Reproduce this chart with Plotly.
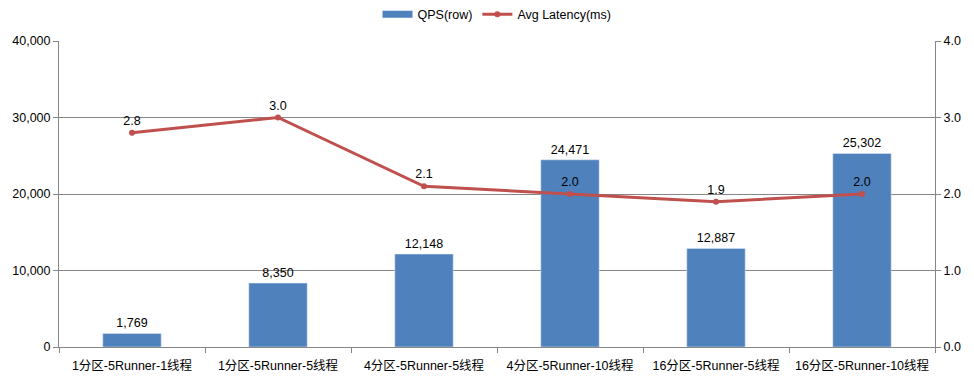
import plotly.graph_objects as go

categories = ["1分区-5Runner-1线程", "1分区-5Runner-5线程", "4分区-5Runner-5线程",
              "4分区-5Runner-10线程", "16分区-5Runner-5线程", "16分区-5Runner-10线程"]
qps = [1769, 8350, 12148, 24471, 12887, 25302]
latency = [2.8, 3.0, 2.1, 2.0, 1.9, 2.0]
left_ticks = [0, 10000, 20000, 30000, 40000]
right_ticks = [0.0, 1.0, 2.0, 3.0, 4.0]

FONT = "Liberation Sans, Noto Sans CJK SC"
AX = "#868686"
BLUE = "#4F81BD"
RED = "#C0504D"

fig = go.Figure()
fig.add_trace(go.Bar(
    x=categories, y=qps, name="QPS(row)", marker_color=BLUE,
    text=[f"{v:,}" for v in qps], textposition="outside",
    textfont=dict(size=12.5, color="#000000"), cliponaxis=False,
    width=0.4, showlegend=False,
))
# legend entry drawn as a wide bar-like swatch (as in the original)
fig.add_trace(go.Scatter(
    x=[None], y=[None], name="QPS(row)", mode="lines",
    line=dict(color=BLUE, width=7), hoverinfo="skip",
))
fig.add_trace(go.Scatter(
    x=categories, y=latency, name="Avg Latency(ms)", yaxis="y2",
    mode="lines+markers+text", line=dict(color=RED, width=3),
    marker=dict(size=6, color=RED),
    text=[f"{v:.1f}" for v in latency], textposition="top center",
    textfont=dict(size=12.5, color="#000000"), cliponaxis=False,
))

fig.update_layout(
    width=966, height=370,
    margin=dict(l=51, r=39, t=33, b=31, autoexpand=False),
    paper_bgcolor="white", plot_bgcolor="white",
    font=dict(family=FONT, size=12, color="#000000"),
    showlegend=True,
    legend=dict(orientation="h", x=0.5, xanchor="center", y=1.135, yanchor="top",
                font=dict(size=12.5), itemwidth=30, traceorder="normal"),
    xaxis=dict(showline=True, linecolor=AX, linewidth=1, ticks="outside",
               tickson="boundaries", ticklen=5, tickcolor=AX, showgrid=False,
               tickangle=0, automargin=False, ticklabelstandoff=7,
               tickfont=dict(size=12.5)),
    yaxis=dict(range=[0, 40000], tickvals=left_ticks,
               ticktext=[f"{v:,}" for v in left_ticks],
               showline=True, linecolor=AX, ticks="outside", ticklen=5, tickcolor=AX,
               showgrid=True, gridcolor=AX, gridwidth=1, zeroline=False,
               automargin=False, tickfont=dict(size=12.5)),
    yaxis2=dict(range=[0, 4], tickvals=right_ticks,
                ticktext=[f"{v:.1f}" for v in right_ticks],
                overlaying="y", side="right", showline=True, linecolor=AX,
                ticks="outside", ticklen=5, tickcolor=AX, showgrid=False,
                zeroline=False, automargin=False, tickfont=dict(size=12.5)),
)
fig.write_html("out.html")
